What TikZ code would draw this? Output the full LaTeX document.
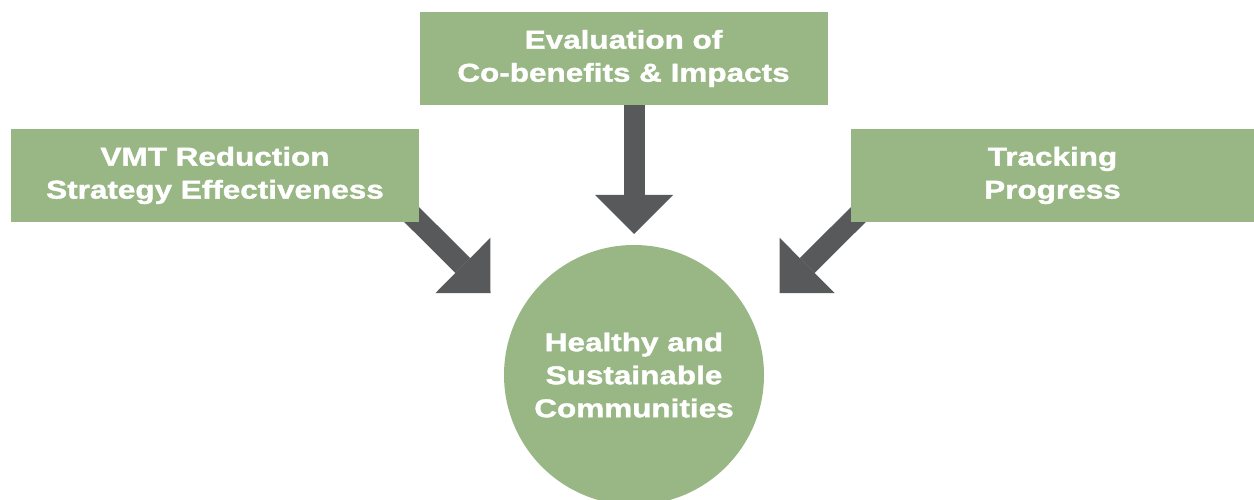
\documentclass[tikz,border=0pt]{standalone}
\usepackage{fontspec}
\newfontfamily\heavyfont{Liberation Sans Bold}[FakeStretch=1.22, FakeBold=1.5]
\usetikzlibrary{arrows.meta,backgrounds,calc}
\definecolor{boxgreen}{RGB}{152,183,132}
\definecolor{arrowgray}{RGB}{88,89,91}

\begin{document}
\begin{tikzpicture}[x=1pt, y=-1pt,
    every node/.style={font=\heavyfont\fontsize{25.8}{33}\selectfont, text=white, align=center},
    greenbox/.style={fill=boxgreen, minimum width=408pt, minimum height=93pt, inner sep=0pt},
    greencircle/.style={circle, fill=boxgreen, minimum size=260pt, inner sep=0pt},
    bigarrow/.style={arrowgray, line width=21pt, -{Triangle[length=39pt, width=78pt, line width=0pt]}}]
  \useasboundingbox (0,0) rectangle (1254,500);

  % Boxes
  \node[greenbox] (vmt) at (215,175.5) {VMT Reduction\\Strategy Effectiveness};
  \node[greenbox] (eval) at (623.5,58.5) {Evaluation of\\Co-benefits \& Impacts};
  \node[greenbox, minimum width=403pt] (track) at (1052.5,175.5) {Tracking\\Progress};

  % Centre circle
  \node[greencircle] (hsc) at (634,375) {Healthy and\\Sustainable\\Communities};

  % Arrow tips
  \coordinate (tipL) at (490.5,293);
  \coordinate (tipT) at (634,234);
  \coordinate (tipR) at (779.5,293);

  % Arrows, behind the boxes
  \begin{scope}[on background layer]
    \draw[bigarrow] ($(vmt.south east)+(-15,-15)$) -- (tipL);
    \draw[bigarrow] ($(eval.south -| hsc)+(0,-10)$) -- (tipT);
    \draw[bigarrow] ($(track.south west)+(15,-15)$) -- (tipR);
  \end{scope}
\end{tikzpicture}
\end{document}
